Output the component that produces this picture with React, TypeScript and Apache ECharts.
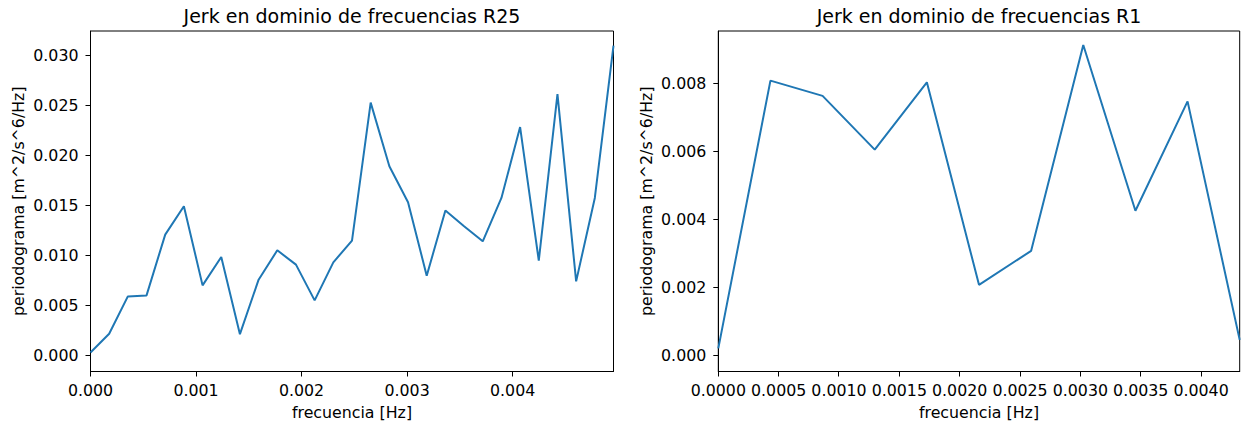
import React, { useEffect, useRef } from "react";
import * as echarts from "echarts";

// Jerk periodogram, run R25
const r25Freq = [
  0, 0.000177, 0.000354, 0.000531, 0.000708, 0.000885, 0.001062, 0.001239,
  0.001416, 0.001593, 0.00177, 0.001947, 0.002124, 0.002301, 0.002478,
  0.002655, 0.002832, 0.003009, 0.003186, 0.003363, 0.00354, 0.003717,
  0.003894, 0.004071, 0.004248, 0.004425, 0.004602, 0.004779, 0.004956,
];
const r25Power = [
  0.0003, 0.00217, 0.0059, 0.006, 0.01207, 0.0149, 0.007, 0.00983, 0.00213,
  0.00757, 0.0105, 0.00907, 0.0055, 0.0093, 0.01147, 0.02525, 0.0189,
  0.0153, 0.00797, 0.01447, 0.0129, 0.0114, 0.01573, 0.02281, 0.00947,
  0.02609, 0.0074, 0.01573, 0.03094,
];

// Jerk periodogram, run R1
const r1Freq = [
  0, 0.000432, 0.000864, 0.001296, 0.001728, 0.00216, 0.002592, 0.003024,
  0.003456, 0.003888, 0.00432,
];
const r1Power = [
  0.0002, 0.00808, 0.00763, 0.00605, 0.00803, 0.00207, 0.00307, 0.00913,
  0.00425, 0.00747, 0.00045,
];

// Tick positions
const r25XTicks = [0, 0.001, 0.002, 0.003, 0.004];
const r25YTicks = [0, 0.005, 0.01, 0.015, 0.02, 0.025, 0.03];
const r1XTicks = [0, 0.0005, 0.001, 0.0015, 0.002, 0.0025, 0.003, 0.0035, 0.004];
const r1YTicks = [0, 0.002, 0.004, 0.006, 0.008];

// Vertical limits (padded around the data)
const r25YMin = -0.0016;
const r25YMax = 0.0324;
const r1YMin = -0.00048;
const r1YMax = 0.00954;

const FONT = "DejaVu Sans";
const TICK_SIZE = 15.8;
const TITLE_SIZE = 19;
const INK = "#000";
const LINE = "#1f77b4";
const TICK_LEN = 5;

const grids = [
  { left: 90.5, top: 31, width: 523, height: 340.5 },
  { left: 718.3, top: 31, width: 521.4, height: 340.5 },
];

function xAxis(gridIndex: number, max: number, ticks: number[], digits: number) {
  return {
    type: "value",
    gridIndex,
    min: 0,
    max,
    splitLine: { show: false },
    axisLine: { show: true, onZero: false, lineStyle: { color: INK, width: 1 } },
    axisTick: { show: false },
    axisLabel: {
      customValues: ticks,
      margin: 11,
      color: INK,
      fontFamily: FONT,
      fontSize: TICK_SIZE,
      formatter: (v: number) => v.toFixed(digits),
    },
  };
}

function yAxis(gridIndex: number, min: number, max: number, ticks: number[]) {
  return {
    type: "value",
    gridIndex,
    min,
    max,
    splitLine: { show: false },
    axisLine: { show: true, onZero: false, lineStyle: { color: INK, width: 1 } },
    axisTick: { show: false },
    axisLabel: {
      customValues: ticks,
      margin: 12,
      color: INK,
      fontFamily: FONT,
      fontSize: TICK_SIZE,
      formatter: (v: number) => v.toFixed(3),
    },
  };
}

// Outward tick marks, placed through the axes' own scales
function tickMarks(index: number, points: number[][], vertical: boolean) {
  return {
    type: "custom",
    xAxisIndex: index,
    yAxisIndex: index,
    clip: false,
    silent: true,
    z: 5,
    data: points,
    renderItem: (_params: any, api: any) => {
      const p = api.coord([api.value(0), api.value(1)]);
      const x = Math.floor(p[0]) + 0.5;
      const y = Math.floor(p[1]) + 0.5;
      const shape = vertical
        ? { x1: x, y1: p[1], x2: x, y2: p[1] + TICK_LEN }
        : { x1: p[0] - TICK_LEN, y1: y, x2: p[0], y2: y };
      return { type: "line", shape, style: { stroke: INK, lineWidth: 1 } };
    },
  };
}

function label(text: string, x: number, y: number, size: number, rotation = 0) {
  return {
    type: "text",
    x,
    y,
    rotation,
    silent: true,
    style: {
      text,
      fill: INK,
      font: `${size}px "${FONT}"`,
      align: "center",
      verticalAlign: "middle",
    },
  };
}

function centerX(g: { left: number; width: number }) {
  return g.left + g.width / 2;
}
function centerY(g: { top: number; height: number }) {
  return g.top + g.height / 2;
}

export default function App() {
  const ref = useRef<HTMLDivElement>(null);

  useEffect(() => {
    document.body.style.margin = "0";
    if (!ref.current) return;
    const chart = echarts.init(ref.current, null, { renderer: "svg" });

    const toPairs = (xs: number[], ys: number[]) => xs.map((x, i) => [x, ys[i]]);
    const r25XMax = r25Freq[r25Freq.length - 1];
    const r1XMax = r1Freq[r1Freq.length - 1];

    chart.setOption({
      animation: false,
      backgroundColor: "#fff",
      grid: grids.map((g) => ({
        ...g,
        show: true,
        borderColor: INK,
        borderWidth: 1,
        backgroundColor: "transparent",
        containLabel: false,
      })),
      xAxis: [xAxis(0, r25XMax, r25XTicks, 3), xAxis(1, r1XMax, r1XTicks, 4)],
      yAxis: [
        yAxis(0, r25YMin, r25YMax, r25YTicks),
        yAxis(1, r1YMin, r1YMax, r1YTicks),
      ],
      series: [
        {
          type: "line",
          xAxisIndex: 0,
          yAxisIndex: 0,
          data: toPairs(r25Freq, r25Power),
          showSymbol: false,
          lineStyle: { color: LINE, width: 2 },
          itemStyle: { color: LINE },
        },
        {
          type: "line",
          xAxisIndex: 1,
          yAxisIndex: 1,
          data: toPairs(r1Freq, r1Power),
          showSymbol: false,
          lineStyle: { color: LINE, width: 2 },
          itemStyle: { color: LINE },
        },
        tickMarks(0, r25XTicks.map((v) => [v, r25YMin]), true),
        tickMarks(0, r25YTicks.map((v) => [0, v]), false),
        tickMarks(1, r1XTicks.map((v) => [v, r1YMin]), true),
        tickMarks(1, r1YTicks.map((v) => [0, v]), false),
      ],
      graphic: [
        label("Jerk en dominio de frecuencias R25", centerX(grids[0]), 16, TITLE_SIZE),
        label("Jerk en dominio de frecuencias R1", centerX(grids[1]), 16, TITLE_SIZE),
        label("frecuencia [Hz]", centerX(grids[0]), 412, TICK_SIZE),
        label("frecuencia [Hz]", centerX(grids[1]), 412, TICK_SIZE),
        label("periodograma [m^2/s^6/Hz]", 18, centerY(grids[0]), TICK_SIZE, Math.PI / 2),
        label("periodograma [m^2/s^6/Hz]", 646, centerY(grids[1]), TICK_SIZE, Math.PI / 2),
      ],
    });

    return () => chart.dispose();
  }, []);

  return <div ref={ref} style={{ width: 1244, height: 428 }} />;
}
